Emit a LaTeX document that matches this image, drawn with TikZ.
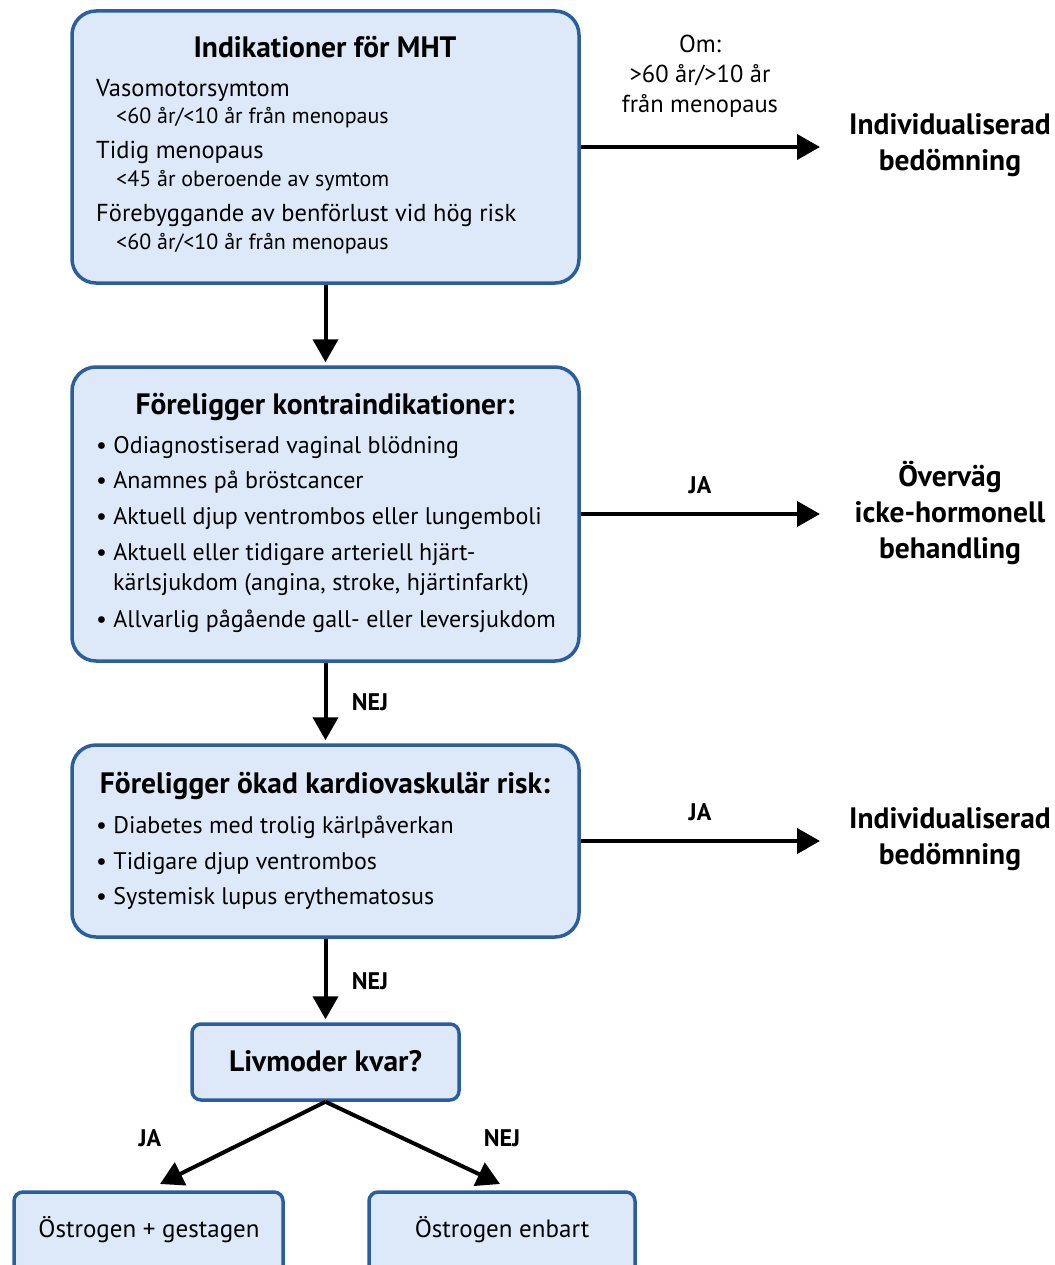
\documentclass[tikz,border=0pt]{standalone}
\usepackage{fontspec}
\setmainfont{PT Sans}
\usetikzlibrary{arrows.meta}
\definecolor{boxfill}{HTML}{DDE9F8}
\definecolor{boxline}{HTML}{2A5E9E}
\begin{document}
\begin{tikzpicture}[x=1pt,y=-1pt,
  box/.style={draw=boxline, fill=boxfill, line width=3.5pt, rounded corners=24pt, inner sep=0pt},
  sbox/.style={box, rounded corners=9pt},
  arr/.style={line width=4pt, -{Triangle[length=23pt,width=25pt]}},
  ttl/.style={anchor=base, inner sep=0pt, font=\fontsize{29.5}{34}\selectfont\bfseries},
  body/.style={anchor=base west, inner sep=0pt, font=\fontsize{24.5}{28}\selectfont},
  subl/.style={anchor=base west, inner sep=0pt, font=\fontsize{22}{24}\selectfont},
  bul/.style={anchor=base west, inner sep=0pt, font=\fontsize{24}{28}\selectfont},
  rtxt/.style={align=center, inner sep=0pt, font=\fontsize{29.5}{36}\selectfont\bfseries},
  lbl/.style={inner sep=0pt, font=\fontsize{24}{28}\selectfont\bfseries},
  note/.style={align=center, inner sep=0pt, font=\fontsize{24.5}{30}\selectfont},
  res/.style={anchor=base, inner sep=0pt, font=\fontsize{25}{28}\selectfont}
]
\useasboundingbox (0,0) rectangle (1054,1265);
\clip (0,0) rectangle (1054,1265);

% boxes
\node[box, minimum width=507pt, minimum height=272pt] (b1) at (325.5,147) {};
\node[box, minimum width=507pt, minimum height=294pt] (b2) at (325.5,514) {};
\node[box, minimum width=507pt, minimum height=192pt] (b3) at (325.5,841) {};
\node[sbox, minimum width=267pt, minimum height=76pt] (b4) at (325.5,1062) {};
\node[sbox, minimum width=269pt, minimum height=100pt] (b5) at (148.5,1242) {};
\node[sbox, minimum width=266pt, minimum height=100pt] (b6) at (502,1242) {};

% box 1 text
\node[ttl] (t1) at (325,58) {Indikationer för MHT};
\node[body] (l11) at (96,97) {Vasomotorsymtom};
\node[subl] (l12) at (116,124) {<60 år/<10 år från menopaus};
\node[body] (l13) at (96,159) {Tidig menopaus};
\node[subl] (l14) at (116,187) {<45 år oberoende av symtom};
\node[body] (l15) at (96,222) {Förebyggande av benförlust vid hög risk};
\node[subl] (l16) at (116,250) {<60 år/<10 år från menopaus};

% box 2 text
\node[ttl] (t2) at (325,414) {Föreligger kontraindikationer:};
\node[bul] (l21) at (96,453) {\textbullet\ Odiagnostiserad vaginal blödning};
\node[bul] (l22) at (96,488) {\textbullet\ Anamnes på bröstcancer};
\node[bul] (l23) at (96,524) {\textbullet\ Aktuell djup ventrombos eller lungemboli};
\node[bul] (l24) at (96,560) {\textbullet\ Aktuell eller tidigare arteriell hjärt-};
\node[bul] (l25) at (113,590) {kärlsjukdom (angina, stroke, hjärtinfarkt)};
\node[bul] (l26) at (96,627) {\textbullet\ Allvarlig pågående gall- eller leversjukdom};

% box 3 text
\node[ttl] (t3) at (325,793) {Föreligger ökad kardiovaskulär risk:};
\node[bul] (l31) at (96,833) {\textbullet\ Diabetes med trolig kärlpåverkan};
\node[bul] (l32) at (96,869) {\textbullet\ Tidigare djup ventrombos};
\node[bul] (l33) at (96,904) {\textbullet\ Systemisk lupus erythematosus};

% box 4-6 text
\node[ttl] (t4) at (325.5,1071) {Livmoder kvar?};
\node[res] (t5) at (149,1237) {Östrogen + gestagen};
\node[res] (t6) at (502,1237) {Östrogen enbart};

% right side results
\node[rtxt] (r1) at (950,145) {Individualiserad\\bedömning};
\node[rtxt] (r2) at (950,513) {Överväg\\icke-hormonell\\behandling};
\node[rtxt] (r3) at (950,839) {Individualiserad\\bedömning};

\coordinate (e1) at (820,147);
\coordinate (e2) at (820,514);
\coordinate (e3) at (820,841);
\coordinate (e4) at (160,1184);
\coordinate (e5) at (500,1184);

% arrows
\draw[arr] (b1.east) -- (e1);
\draw[arr] (b2.east) -- (e2);
\draw[arr] (b3.east) -- (e3);
\draw[arr, shorten >=3pt] (b1.south) -- (b2.north);
\draw[arr, shorten >=3pt] (b2.south) -- (b3.north);
\draw[arr, shorten >=3pt] (b3.south) -- (b4.north);
\draw[arr] (b4.south) -- (e4);
\draw[arr] (b4.south) -- (e5);

% labels
\node[note] (n1) at (700,76) {Om:\\>60 år/>10 år\\från menopaus};
\node[lbl] (ja1) at (700,485) {JA};
\node[lbl] (ja2) at (700,812) {JA};
\node[lbl] (nej1) at (370,702) {NEJ};
\node[lbl] (nej2) at (370,981) {NEJ};
\node[lbl] (ja3) at (150,1138) {JA};
\node[lbl] (nej3) at (502,1138) {NEJ};
\end{tikzpicture}
\end{document}
